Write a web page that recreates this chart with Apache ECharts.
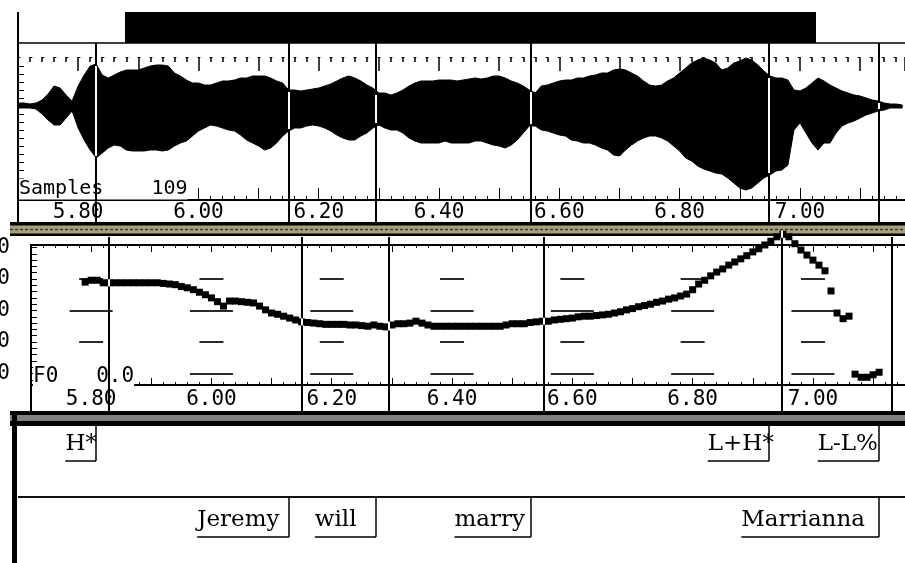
<!DOCTYPE html>
<html><head><meta charset="utf-8">
<script src="https://cdn.jsdelivr.net/npm/echarts@6/dist/echarts.min.js"></script>
<style>html,body{margin:0;padding:0;background:#fff}#c{width:905px;height:563px}</style>
</head><body><div id="c"></div>
<script>
// ================= DATA =================
// time-axis tick labels (seconds)
const timeTickLabels = [5.80, 6.00, 6.20, 6.40, 6.60, 6.80, 7.00];
// F0 axis levels (Hz) – only the last digit is visible in the original
const pitchLevels = [100, 150, 200, 250, 300];
const pitchLevelsShortDash = [150, 250];
const pitchLevelsLongDash = [100, 200];

// waveform envelope, one column every 10 ms (arbitrary amplitude units)
const waveTime = [
5.70,5.71,5.72,5.73,5.74,5.75,5.76,5.77,5.78,5.79,
5.80,5.81,5.82,5.83,5.84,5.85,5.86,5.87,5.88,5.89,
5.90,5.91,5.92,5.93,5.94,5.95,5.96,5.97,5.98,5.99,
6.00,6.01,6.02,6.03,6.04,6.05,6.06,6.07,6.08,6.09,
6.10,6.11,6.12,6.13,6.14,6.15,6.16,6.17,6.18,6.19,
6.20,6.21,6.22,6.23,6.24,6.25,6.26,6.27,6.28,6.29,
6.30,6.31,6.32,6.33,6.34,6.35,6.36,6.37,6.38,6.39,
6.40,6.41,6.42,6.43,6.44,6.45,6.46,6.47,6.48,6.49,
6.50,6.51,6.52,6.53,6.54,6.55,6.56,6.57,6.58,6.59,
6.60,6.61,6.62,6.63,6.64,6.65,6.66,6.67,6.68,6.69,
6.70,6.71,6.72,6.73,6.74,6.75,6.76,6.77,6.78,6.79,
6.80,6.81,6.82,6.83,6.84,6.85,6.86,6.87,6.88,6.89,
6.90,6.91,6.92,6.93,6.94,6.95,6.96,6.97,6.98,6.99,
7.00,7.01,7.02,7.03,7.04,7.05,7.06,7.07,7.08,7.09,
7.10,7.11,7.12,7.13,7.14,7.15,7.16,7.17];
const waveUpper = [
3,3,2,3,6,12,20,18,11,5,
20,31,40,42,31,28,31,34,36,36,
36,38,40,41,41,40,33,30,26,23,
23,21,21,23,25,25,26,28,28,30,
30,30,28,25,23,16,16,15,16,17,
18,20,22,25,28,30,28,25,21,18,
13,13,11,13,16,20,23,25,25,25,
26,26,26,25,26,27,28,27,28,30,
30,28,25,23,20,16,13,20,21,23,
25,26,26,28,28,30,31,33,33,36,
37,36,33,30,25,21,20,21,25,28,
33,38,43,46,48,46,43,36,38,43,
45,48,46,41,35,30,28,28,26,16,
15,18,23,28,25,21,18,15,13,11,
10,8,6,5,3,2,2,1];
const waveLower = [
-2,-2,-2,-3,-8,-14,-19,-19,-12,-5,
-22,-34,-44,-52,-47,-42,-39,-40,-44,-45,
-45,-45,-44,-44,-45,-44,-40,-37,-35,-30,
-25,-22,-19,-20,-22,-24,-25,-29,-34,-37,
-40,-44,-42,-37,-30,-25,-22,-22,-20,-19,
-20,-22,-25,-29,-32,-34,-34,-30,-27,-22,
-19,-22,-24,-24,-27,-32,-35,-37,-37,-37,
-37,-35,-37,-37,-37,-37,-35,-35,-37,-39,
-40,-42,-39,-34,-27,-20,-20,-24,-25,-27,
-29,-30,-34,-35,-37,-37,-39,-42,-44,-49,
-50,-44,-39,-35,-32,-30,-30,-32,-35,-40,
-45,-52,-55,-60,-63,-65,-67,-68,-72,-77,
-82,-84,-82,-77,-72,-69,-65,-64,-59,-24,
-17,-27,-37,-44,-37,-37,-27,-20,-17,-15,
-12,-9,-7,-5,-4,-2,-2,-2];

// F0 track (s, Hz)
const pitchTime = [
5.79,5.80,5.81,5.82,5.83,5.84,5.85,5.86,5.87,5.88,5.89,
5.90,5.91,5.92,5.93,5.94,5.95,5.96,5.97,5.98,5.99,
6.00,6.01,6.02,6.03,6.04,6.05,6.06,6.07,6.08,6.09,
6.10,6.11,6.12,6.13,6.14,6.15,6.16,6.17,6.18,6.19,
6.20,6.21,6.22,6.23,6.24,6.25,6.26,6.27,6.28,6.29,
6.30,6.31,6.32,6.33,6.34,6.35,6.36,6.37,6.38,6.39,
6.40,6.41,6.42,6.43,6.44,6.45,6.46,6.47,6.48,6.49,
6.50,6.51,6.52,6.53,6.54,6.55,6.56,6.57,6.58,6.59,
6.60,6.61,6.62,6.63,6.64,6.65,6.66,6.67,6.68,6.69,
6.70,6.71,6.72,6.73,6.74,6.75,6.76,6.77,6.78,6.79,
6.80,6.81,6.82,6.83,6.84,6.85,6.86,6.87,6.88,6.89,
6.90,6.91,6.92,6.93,6.94,6.95,6.96,6.97,6.98,6.99,
7.00,7.01,7.02,7.03,7.04,7.05,7.06,7.07,7.08,7.09,
7.10,7.11];
const pitchHz = [
245,248,248,244,244,244,244,244,244,244,244,
244,244,243,242,241,238,236,233,229,225,
220,214,207,215,215,214,213,212,207,201,
196,194,191,188,185,182,181,180,179,178,
178,178,178,177,177,176,175,177,175,174,
177,179,179,180,183,180,177,175,175,175,
175,175,175,175,175,175,175,175,175,177,
179,179,179,181,182,183,183,185,186,187,
188,190,191,191,192,193,194,196,198,201,
203,206,208,210,213,215,218,220,223,226,
233,242,248,255,261,266,272,277,282,287,
293,298,304,310,317,321,317,306,296,288,
280,272,263,231,196,187,191,99,94,94,
98,102];

// ToBI tiers: label text and end time (s)
const toneLabels = ['H*', 'L+H*', 'L-L%'];
const toneEnds = [5.8297, 6.9485, 7.1314];
const wordLabels = ['Jeremy', 'will', 'marry', 'Marrianna'];
const wordEnds = [6.1505, 6.2952, 6.5529, 7.1314];

// cursor readouts shown in the panels
const waveReadout = ['Samples', '109'];
const pitchReadout = ['F0', '0.0'];

// ================= CHART =================
const MONO = '"DejaVu Sans Mono"';
const SERIF = '"DejaVu Serif"';
const boundaryTimes = Array.from(new Set(toneEnds.concat(wordEnds))).sort((a, b) => a - b);

const waveTicks = [];
for (let v = -88; v <= 44; v += 8) waveTicks.push(v);
const pitchTicks = [];
for (let v = 90; v <= 300; v += 10) pitchTicks.push(v);

const X0 = 5.70;
const PX_PER_S = 601.5;
const waveMax = X0 + 887 / PX_PER_S;
const pitchMax = X0 + 874 / PX_PER_S;

function nearestIndex(arr, t) {
  let best = 0;
  for (let i = 1; i < arr.length; i++) if (Math.abs(arr[i] - t) < Math.abs(arr[best] - t)) best = i;
  return best;
}

// boundary cursor: black line; where it crosses black marks it is drawn white (xor look)
function waveBoundaryRender(params, api) {
  const t = api.value(0);
  const x = Math.round(api.coord([t, 0])[0]);
  const cs = params.coordSys;
  const i = nearestIndex(waveTime, t);
  const yTop = api.coord([t, waveUpper[i]])[1] + 2;
  const yBot = api.coord([t, waveLower[i]])[1] - 2;
  return { type: 'group', children: [
    { type: 'line', shape: { x1: x, y1: cs.y - 14, x2: x, y2: cs.y + cs.height + 22 }, style: { stroke: '#000', lineWidth: 2 } },
    { type: 'line', shape: { x1: x, y1: yTop, x2: x, y2: yBot }, style: { stroke: '#fff', lineWidth: 2 } }
  ] };
}
function pitchBoundaryRender(params, api) {
  const t = api.value(0);
  const x = Math.round(api.coord([t, 200])[0]);
  const cs = params.coordSys;
  const children = [
    { type: 'line', shape: { x1: x, y1: cs.y - 8, x2: x, y2: cs.y + cs.height + 26 }, style: { stroke: '#000', lineWidth: 2 } }
  ];
  for (let i = 0; i < pitchTime.length; i++) {
    const p = api.coord([pitchTime[i], pitchHz[i]]);
    if (Math.abs(p[0] - x) <= 3.5) {
      children.push({ type: 'line', shape: { x1: x, y1: p[1] - 3.5, x2: x, y2: p[1] + 3.5 }, style: { stroke: '#fff', lineWidth: 2 } });
    }
  }
  return { type: 'group', children };
}

const TIER_STYLE = [{ mid: 19, ul: 36 }, { mid: 23, ul: 40 }];
const CELL = 15.3;
function labelRenderer(params, api) {
  const end = api.value(0), tier = api.value(1), idx = api.value(2);
  const text = tier === 0 ? toneLabels[idx] : wordLabels[idx];
  const p = api.coord([end, tier]);
  const xb = Math.round(p[0]);
  const top = p[1];
  const st = TIER_STYLE[tier];
  const x0 = xb - text.length * CELL;
  return {
    type: 'group',
    children: [
      { type: 'line', shape: { x1: x0, y1: top + st.ul, x2: xb, y2: top + st.ul }, style: { stroke: '#000', lineWidth: 1.5 } },
      { type: 'line', shape: { x1: xb, y1: top, x2: xb, y2: top + st.ul }, style: { stroke: '#000', lineWidth: 1.5 } },
      { type: 'text', style: { x: x0, y: top + st.mid, text: text, fill: '#000', font: '23px ' + SERIF, align: 'left', verticalAlign: 'middle' } }
    ]
  };
}

const tickLabelStyle = { color: '#000', fontFamily: 'DejaVu Sans Mono', fontSize: 21 };

const option = {
  backgroundColor: '#fff',
  animation: false,
  grid: [
    { left: 18, top: 57, width: 887, height: 143, containLabel: false, outerBoundsMode: 'none' },
    { left: 31, top: 245, width: 874, height: 140, containLabel: false, outerBoundsMode: 'none' },
    { left: 18, top: 425, width: 887, height: 144, containLabel: false, outerBoundsMode: 'none' }
  ],
  xAxis: [
    { gridIndex: 0, type: 'value', position: 'bottom', min: X0, max: waveMax, interval: 0.1,
      axisLine: { show: true, onZero: false, lineStyle: { color: '#000', width: 2 } },
      axisTick: { show: true, inside: true, length: 12, lineStyle: { color: '#000' } },
      minorTick: { show: true, splitNumber: 5, length: 4, lineStyle: { color: '#000' } },
      splitLine: { show: false },
      axisLabel: { customValues: timeTickLabels, formatter: v => v.toFixed(2), margin: 2, ...tickLabelStyle } },
    { gridIndex: 0, type: 'value', position: 'top', min: X0, max: waveMax, interval: 0.1,
      axisLine: { show: true, onZero: false, lineStyle: { color: '#000', width: 1, type: [2, 10] } },
      axisTick: { show: true, inside: true, length: 14, lineStyle: { color: '#000', width: 1.5 } },
      minorTick: { show: true, splitNumber: 5, length: 5, lineStyle: { color: '#000', width: 1.5 } },
      splitLine: { show: false }, axisLabel: { show: false } },
    { gridIndex: 1, type: 'value', position: 'bottom', min: X0, max: pitchMax, interval: 0.1,
      axisLine: { show: true, onZero: false, lineStyle: { color: '#000', width: 2 } },
      axisTick: { show: true, inside: true, length: 7, lineStyle: { color: '#000' } },
      minorTick: { show: true, splitNumber: 5, length: 3, lineStyle: { color: '#000' } },
      splitLine: { show: false },
      axisLabel: { customValues: timeTickLabels, formatter: v => v.toFixed(2), margin: 4, ...tickLabelStyle } },
    { gridIndex: 1, type: 'value', position: 'top', min: X0, max: pitchMax, interval: 0.1,
      axisLine: { show: true, onZero: false, lineStyle: { color: '#000', width: 2 } },
      axisTick: { show: true, inside: true, length: 7, lineStyle: { color: '#000' } },
      minorTick: { show: true, splitNumber: 5, length: 3, lineStyle: { color: '#000' } },
      splitLine: { show: false }, axisLabel: { show: false } },
    { gridIndex: 2, type: 'value', min: X0, max: waveMax, show: false }
  ],
  yAxis: [
    { gridIndex: 0, type: 'value', min: -94, max: 49,
      axisLine: { show: true, onZero: false, lineStyle: { color: '#000', width: 2 } },
      axisTick: { show: true, inside: true, length: 6, customValues: waveTicks, lineStyle: { color: '#000' } },
      axisLabel: { show: false }, splitLine: { show: false } },
    { gridIndex: 1, type: 'value', min: 81.75, max: 303.97,
      axisLine: { show: true, onZero: false, lineStyle: { color: '#000', width: 2 } },
      axisTick: { show: true, inside: true, length: 6, customValues: pitchTicks, lineStyle: { color: '#000' } },
      axisLabel: { customValues: pitchLevels, margin: 21, align: 'right', ...tickLabelStyle },
      splitLine: { show: false } },
    { gridIndex: 2, type: 'value', min: 0, max: 2, interval: 1, inverse: true,
      axisLine: { show: false }, axisTick: { show: false }, axisLabel: { show: false },
      splitLine: { show: true, lineStyle: { color: '#111', width: 2 } } }
  ],
  graphic: { elements: [
    // overview bar at the top
    { type: 'rect', z: 1, shape: { x: 125, y: 12, width: 691, height: 31 }, style: { fill: '#000' } },
    { type: 'line', z: 1, shape: { x1: 18, y1: 12, x2: 18, y2: 57 }, style: { stroke: '#000', lineWidth: 2 } },
    { type: 'line', z: 1, shape: { x1: 17, y1: 43, x2: 905, y2: 43 }, style: { stroke: '#000', lineWidth: 1.5 } },
    { type: 'line', z: 1, shape: { x1: 18, y1: 200, x2: 18, y2: 222 }, style: { stroke: '#000', lineWidth: 2 } },
    // separator between the two panels
    { type: 'rect', z: 1, shape: { x: 10, y: 222, width: 895, height: 14 }, style: { fill: '#000' } },
    { type: 'rect', z: 1, shape: { x: 10, y: 225.5, width: 895, height: 8 }, style: { fill: '#a89f7c' } },
    { type: 'line', z: 1, shape: { x1: 10, y1: 229.5, x2: 905, y2: 229.5 }, style: { stroke: '#3a3526', lineWidth: 1.5, lineDash: [3, 2] } },
    { type: 'line', z: 1, shape: { x1: 31, y1: 385, x2: 31, y2: 411 }, style: { stroke: '#000', lineWidth: 2 } },
    // label-window header bar and left border
    { type: 'rect', z: 1, shape: { x: 10, y: 411, width: 895, height: 15 }, style: { fill: '#000' } },
    { type: 'rect', z: 1, shape: { x: 10, y: 415, width: 895, height: 6 }, style: { fill: '#808080' } },
    { type: 'rect', z: 1, shape: { x: 12, y: 411, width: 5, height: 152 }, style: { fill: '#000' } },
    // cursor readouts (drawn on an opaque field, as in the original display)
    { type: 'text', z: 3, style: { x: 19, y: 189, text: waveReadout[0] + '    ' + waveReadout[1], font: '20px ' + MONO, fill: '#000', verticalAlign: 'middle', backgroundColor: '#fff', padding: [1, 0, 0, 0] } },
    { type: 'text', z: 3, style: { x: 33, y: 377, text: pitchReadout[0] + '   ' + pitchReadout[1], font: '21px ' + MONO, fill: '#000', verticalAlign: 'middle', backgroundColor: '#fff', padding: [0, 0, 0, 0] } }
  ] },
  series: [
    { // waveform envelope
      type: 'custom', name: 'waveform', xAxisIndex: 0, yAxisIndex: 0, silent: true, z: 2,
      data: waveTime.map((t, i) => [t, waveLower[i], waveUpper[i]]),
      encode: { x: 0, y: [1, 2] },
      renderItem: function (params, api) {
        if (params.dataIndex !== 0) return null;
        const pts = [];
        for (let i = 0; i < waveTime.length; i++) pts.push(api.coord([waveTime[i], waveUpper[i]]));
        for (let i = waveTime.length - 1; i >= 0; i--) pts.push(api.coord([waveTime[i], waveLower[i]]));
        return { type: 'polygon', shape: { points: pts }, style: { fill: '#000', stroke: '#000', lineWidth: 1 } };
      }
    },
    { // boundary cursors in waveform panel
      type: 'custom', name: 'waveBoundaries', xAxisIndex: 0, yAxisIndex: 0, silent: true, z: 10,
      data: boundaryTimes.map(t => [t, 0]),
      renderItem: waveBoundaryRender
    },
    { // F0 grid dashes
      type: 'custom', name: 'pitchGrid', xAxisIndex: 2, yAxisIndex: 1, silent: true, z: 2,
      data: [].concat(
        ...pitchLevelsShortDash.map(l => timeTickLabels.map(t => [t, l, 0])),
        ...pitchLevelsLongDash.map(l => timeTickLabels.map(t => [t, l, 1]))),
      renderItem: function (params, api) {
        const p = api.coord([api.value(0), api.value(1)]);
        const half = api.value(2) === 1 ? 21.5 : 12;
        const y = Math.round(p[1]);
        return { type: 'line', shape: { x1: p[0] - half, y1: y, x2: p[0] + half, y2: y }, style: { stroke: '#2a2a2a', lineWidth: 2 } };
      }
    },
    { // F0 track
      type: 'scatter', name: 'F0', xAxisIndex: 2, yAxisIndex: 1, silent: true, clip: false, z: 4,
      symbol: 'rect', symbolSize: 7, itemStyle: { color: '#000', opacity: 1 },
      data: pitchTime.map((t, i) => [t, pitchHz[i]])
    },
    { // boundary cursors in F0 panel
      type: 'custom', name: 'pitchBoundaries', xAxisIndex: 2, yAxisIndex: 1, silent: true, z: 10,
      data: boundaryTimes.map(t => [t, 200]),
      renderItem: pitchBoundaryRender
    },
    { // label tiers
      type: 'custom', name: 'labels', xAxisIndex: 4, yAxisIndex: 2, silent: true, z: 5,
      data: toneEnds.map((t, i) => [t, 0, i]).concat(wordEnds.map((t, i) => [t, 1, i])),
      renderItem: labelRenderer
    }
  ]
};

const chart = echarts.init(document.getElementById('c'));
chart.setOption(option);
</script>
</body></html>
